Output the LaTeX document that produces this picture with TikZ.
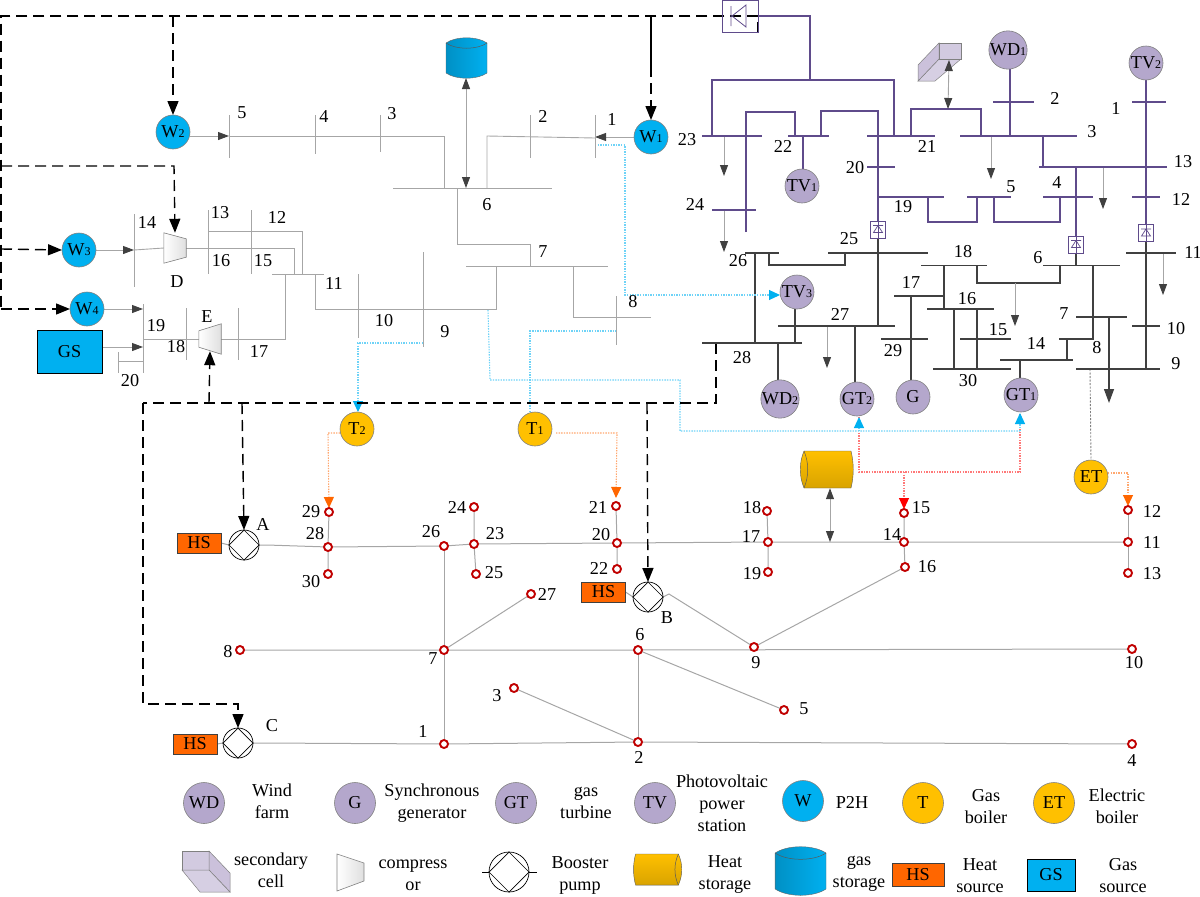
\documentclass[tikz,border=0pt]{standalone}
\usepackage{fontspec}
\setmainfont{Liberation Serif}
\usetikzlibrary{arrows.meta,backgrounds,calc}
\definecolor{pl}{HTML}{5F4B8B}
\definecolor{dk}{HTML}{404040}
\definecolor{gl}{HTML}{A6A6A6}
\definecolor{cpur}{HTML}{B4A7CC}
\definecolor{cblu}{HTML}{00B0F0}
\definecolor{cgol}{HTML}{FFC000}
\definecolor{corg}{HTML}{FF6600}
\definecolor{cred}{HTML}{C00000}
\definecolor{lblu}{HTML}{6FD3F7}
\definecolor{lred}{HTML}{FF7878}
\definecolor{lorg}{HTML}{FFA870}
\newcommand\lowd[1]{{\fontsize{12}{12}\selectfont #1}}
\newcommand\busH[5]{\pgfmathsetmacro\busC{(#3+#4)/2}\pgfmathsetmacro\busL{#4-#3}\node[bus,fill=#1,minimum width=\busL pt,minimum height=1.3pt] (#2) at (\busC,#5) {};}
\newcommand\busT[5]{\pgfmathsetmacro\busC{(#3+#4)/2}\pgfmathsetmacro\busL{#4-#3}\node[bus,fill=#1,minimum width=\busL pt,minimum height=.9pt] (#2) at (\busC,#5) {};}
\newcommand\busV[5]{\pgfmathsetmacro\busC{(#4+#5)/2}\pgfmathsetmacro\busL{#5-#4}\node[bus,fill=#1,minimum height=\busL pt,minimum width=.9pt] (#2) at (#3,\busC) {};}
\newcommand\conv[3]{\node[convbox] (#1) at (#2,#3) {};
 \draw[pl,line width=.8pt] (#1.north) -- (#1.south);
 \draw[pl,line width=.7pt] ([shift={(-5pt,4pt)}]#1.center) -- ([shift={(5pt,4pt)}]#1.center)
   ([shift={(0pt,4pt)}]#1.center) -- ([shift={(-4.5pt,-3pt)}]#1.center) -- ([shift={(4.5pt,-3pt)}]#1.center) -- cycle;}
\newcommand\pump[4]{\node[circle,draw=black,fill=white,line width=.7pt,inner sep=0,outer sep=0,minimum size=#4pt] (#1) at (#2,#3) {};
 \draw[black,line width=.7pt] (#1.north) -- (#1.east) -- (#1.south) -- (#1.west) -- cycle;}
\newcommand\gascyl[4]{\begin{scope}[shift={(#1,#2)},xscale=#3,yscale=#4]
 \path[left color=cblu!82!black,right color=cblu,draw=gray!80!black,line width=.4pt] (0,5) .. controls (10,-2) and (31,-2) .. (41,5) -- (41,35) .. controls (31,42) and (10,42) .. (0,35) -- cycle;
 \draw[gray!70!black,line width=.5pt] (0,5) .. controls (10,12) and (31,12) .. (41,5);
 \end{scope}}
\newcommand\heatcyl[4]{\begin{scope}[shift={(#1,#2)},xscale=#3,yscale=#4]
 \path[top color=cgol,bottom color=cgol!85!black,draw=gray!70!black,line width=.4pt] (4,0) -- (51,0) .. controls (54,12) and (54,25) .. (51,37) -- (4,37) .. controls (-1,25) and (-1,12) .. (4,0) -- cycle;
 \draw[gray!70!black,line width=.5pt] (4,0) .. controls (9,12) and (9,25) .. (4,37);
 \end{scope}}
\newcommand\compR[1]{\path[left color=white,right color=gray!25,draw=gray,line width=.6pt] (#1.north west) -- ([yshift=-6pt]#1.north east) -- ([yshift=6pt]#1.south east) -- (#1.south west) -- cycle;}
\newcommand\compL[1]{\path[left color=white,right color=gray!25,draw=gray,line width=.6pt] ([yshift=-7pt]#1.north west) -- (#1.north east) -- (#1.south east) -- ([yshift=7pt]#1.south west) -- cycle;}
\tikzset{
 txt/.style={font=\fontsize{18.2}{22}\selectfont,inner sep=0,outer sep=0,align=center,text=black},
 bus/.style={rectangle,inner sep=0,outer sep=0,draw=none},
 convbox/.style={rectangle,draw=pl,fill=white,line width=.7pt,inner sep=0,minimum width=15pt,minimum height=17pt},
 crc/.style={circle,draw=gray,line width=.6pt,inner sep=0,outer sep=0,minimum size=34pt,txt},
 cp/.style={crc,fill=cpur},
 cb/.style={crc,fill=cblu},
 cg/.style={crc,fill=cgol},
 big/.style={minimum size=41pt},
 ring/.style={circle,draw=cred,fill=white,line width=1.9pt,inner sep=0,outer sep=0,minimum size=8pt},
 hsbox/.style={rectangle,draw=dk,line width=1pt,fill=corg,inner sep=0,minimum width=44pt,minimum height=20pt,txt},
 gsbox/.style={rectangle,draw=black,line width=1pt,fill=cblu,inner sep=0,txt},
 tipd/.style={-{Triangle[length=11pt,width=8pt,color=dk]}},
 tipb/.style={{Triangle[length=11pt,width=8pt,color=dk]}-{Triangle[length=11pt,width=8pt,color=dk]}},
 gline/.style={draw=gl,line width=.9pt},
 pline/.style={draw=pl,line width=1.3pt},
 dline/.style={draw=dk,line width=1.3pt},
 tline/.style={draw=gl,line width=1pt},
 ctrl/.style={draw=black,line width=1.4pt,dash pattern=on 11pt off 6pt},
 ctip/.style={-{Triangle[length=14pt,width=11pt,color=black]}},
 dotb/.style={draw=lblu,line width=1.1pt,dash pattern=on 1.4pt off 1.2pt},
 dotr/.style={draw=lred,line width=1.1pt,dash pattern=on 1.4pt off 1.2pt},
 doto/.style={draw=lorg,line width=1.1pt,dash pattern=on 1.4pt off 1.2pt},
 btip/.style={-{Triangle[length=11pt,width=10pt,color=cblu]}},
 rtip/.style={-{Triangle[length=11pt,width=10pt,color=red]}},
 otip/.style={-{Triangle[length=11pt,width=10pt,color=corg]}},
}
\begin{document}
\begin{tikzpicture}[x=1pt,y=-1pt]
\path[use as bounding box] (0,0) rectangle (1200,897);

% ---------- circles
\node[cb] (W1) at (651,137) {W\lowd{1}};
\node[cb] (W2) at (173,132) {W\lowd{2}};
\node[cb] (W3) at (79,250) {W\lowd{3}};
\node[cb] (W4) at (87,309) {W\lowd{4}};
\node[cp] (TV1) at (802,186) {TV\lowd{1}};
\node[cp] (TV2) at (1146,63) {TV\lowd{2}};
\node[cp] (TV3) at (797,292) {TV\lowd{3}};
\node[cp] (WD1) at (1008,50) {WD\lowd{1}};
\node[cp] (WD2) at (780,399) {WD\lowd{2}};
\node[cp] (GT1) at (1021,395) {GT\lowd{1}};
\node[cp] (GT2) at (857,399) {GT\lowd{2}};
\node[cp] (Gen) at (913,397) {G};
\node[cg] (T1) at (535,429) {T\lowd{1}};
\node[cg] (T2) at (357,429) {T\lowd{2}};
\node[cg] (ET) at (1091,477) {ET};
\node[gsbox,minimum width=65pt,minimum height=43pt] (GS) at (69.5,351.5) {GS};

% ---------- gas network buses
\busV{gl}{g1}{595}{115}{158}
\busV{gl}{g2}{530}{115}{158}
\busV{gl}{g3}{380}{115}{152}
\busV{gl}{g4}{315}{115}{154}
\busV{gl}{g5}{229}{115}{158}
\busT{gl}{g6}{393}{552}{188}
\busT{gl}{g7}{466}{608}{266}
\busV{gl}{g8}{616}{296}{345}
\busV{gl}{g9}{423}{252}{347}
\busV{gl}{g10}{358}{274}{338}
\busT{gl}{g11}{272}{324}{274}
\busV{gl}{g12}{251}{210}{274}
\busV{gl}{g13}{208}{210}{274}
\busV{gl}{g14}{134}{214}{287}
\busV{gl}{g17}{238}{308}{360}
\busV{gl}{g18}{186}{308}{360}
\busV{gl}{g19}{143}{304}{373}
\busV{gl}{g20}{118}{352}{373}
\coordinate (g8e) at (651,317);
\node[inner sep=0,minimum width=22pt,minimum height=30pt] (CD) at (175,248) {};
\node[inner sep=0,minimum width=22pt,minimum height=30pt] (CE) at (210,339) {};
\compR{CD}
\compL{CE}

% ---------- electric buses
\node[rectangle,draw=pl,line width=.8pt,inner sep=0,minimum width=36pt,minimum height=32pt] (rect) at (740,16) {};
\draw[pl,line width=.8pt] (731,6) -- (731,26) (732,16) -- (746,5) -- (746,27) -- cycle;
\busH{pl}{e23}{702}{762}{136}
\busH{pl}{e24}{712}{756}{210}
\busH{pl}{e22}{788}{829}{136}
\busH{pl}{e21}{867}{935}{136}
\busH{pl}{e20}{867}{895}{167}
\busH{pl}{e19}{878}{944}{197}
\busH{pl}{e5}{967}{1011}{197}
\busH{pl}{e4}{1043}{1093}{197}
\busH{pl}{e3}{960}{1077}{136}
\busH{pl}{e2}{993}{1034}{102}
\busH{pl}{e1}{1132}{1166}{102}
\busH{pl}{e13}{1039}{1167}{167}
\busH{pl}{e12}{1132}{1160}{197}
\busH{dk}{e26}{745}{779}{253}
\busH{dk}{e25}{828}{928}{253}
\busH{dk}{e27}{778}{895}{326}
\busH{dk}{e28}{702}{802}{343}
\busH{dk}{e29}{881}{928}{339}
\busH{dk}{e17}{894}{944}{296}
\busH{dk}{e18}{921}{987}{265.5}
\busH{dk}{e16}{927}{994}{309}
\busH{dk}{e15}{960}{1011}{339}
\busH{dk}{e30}{933}{1011}{369}
\busH{dk}{e14}{1000}{1073}{360}
\busH{dk}{e8}{1059}{1093}{339}
\busH{dk}{e6}{1043}{1120}{265.5}
\busH{dk}{e7}{1076}{1127}{317}
\busH{dk}{e9}{1076}{1160}{369}
\busH{dk}{e10}{1132}{1160}{326}
\busH{dk}{e11}{1126}{1176}{253}
\coordinate (e23b) at (746,232);

% secondary cell
\coordinate (sc) at (949,60);
\draw[gray,line width=.5pt,fill=cpur!55] (939,59) -- (961,59) -- (935,81) -- (918,81) -- cycle;
\draw[gray,line width=.5pt,fill=cpur!70] (939,43) -- (939,59) -- (918,81) -- (918,65) -- cycle;
\draw[gray,line width=.5pt,fill=cpur!60] (939,43) rectangle (961,59);
\draw[gline,tipb] (sc) -- (948,0 |- e3 |- 0,109);

% gas storage / heat storage
\gascyl{446}{38}{1}{1}
\coordinate (gst) at (466,78);
\heatcyl{800}{451}{1}{1}
\node[inner sep=0,minimum width=53pt,minimum height=37pt] (hst) at (826.5,469.5) {};

% ---------- thermal nodes
\foreach \nm/\x/\y in {1/444/744,2/638/742,3/514/688,4/1132/744,5/784/710,6/638/650,7/444/650,8/240/650,9/754/647,10/1132/649,11/1128/542,12/1128/510,13/1128/573,14/904/542,15/904/513,16/905/567,17/768/542,18/767/511,19/768/572,20/617/543,21/616/506,22/617/569,23/474/544,24/474/507,25/476/574,26/444/546,27/531/594,28/328/547,29/329/512,30/328/574}
  \node[ring] (t\nm) at (\x,\y) {};
\pump{PA}{244}{545}{30}
\pump{PB}{648}{597}{30}
\pump{PC}{238}{743}{30}
\node[hsbox] (HA) at (199,543) {HS};
\node[hsbox] (HB) at (603.5,592) {HS};
\node[hsbox] (HC) at (195,744) {HS};
\coordinate (PAe) at (267,545);
\coordinate (PBe) at (669,594);
\coordinate (PCe) at (261,743);
\conv{c1}{878}{229.5}
\conv{c2}{1076}{244.5}
\conv{c3}{1146}{233}
\coordinate (cT) at (1,16);
\coordinate (cB) at (1,309);
\coordinate (cS) at (716,403);
\coordinate (cW) at (143,403);

\begin{scope}[on background layer]
% gas network
\draw[gline,tipd] (W2.east |- 0,136) -- (g5 |- 0,136);
\draw[gline] (g5 |- 0,136) -- (444,136) -- (444,0 |- g6);
\draw[gline] (487,0 |- g6) -- (487,136) -- (g1 |- 0,138);
\draw[gline,tipd] (W1.west) -- (g1 |- W1);
\draw[gline] (457,0 |- g6) -- (457,244) -- (530,244) -- (530,0 |- g7);
\draw[gline] (496,0 |- g7) -- (496,309) -- (315,309) -- (315,0 |- g11);
\draw[gline] (573,0 |- g7) -- (573,317) -- (g8e);
\draw[gline] (302,0 |- g11) -- (302,231) -- (g13 |- 0,231);
\draw[gline] (294,0 |- g11) -- (294,248) -- (CD.east);
\draw[gline] (285,0 |- g11) -- (285,339) -- (CE.east);
\draw[gline,tipd] (W3.east) -- (g14 |- W3);
\draw[gline] (g14 |- W3) -- (CD.west);
\draw[gline,tipd] (W4.east) -- (g19 |- W4);
\draw[gline,tipd] (GS.east |- 0,347) -- (g19 |- 0,347);
\draw[gline] (g19 |- 0,339) -- (CE.west);
\draw[gline] (g19 |- 0,361) -- (g20 |- 0,361);
\draw[gline,tipb] (gst) -- (466,0 |- g6);

% electric network - purple
\draw[pline] (rect.east) -- (810,16) -- (810,80);
\draw[pline] (712,0 |- e23) -- (712,80) -- (894,80) -- (894,0 |- e21);
\draw[pline] (e23b) -- (746,112) -- (795,112) -- (795,0 |- e22);
\draw[pline] (803,0 |- e22) -- (TV1.north -| 803,0);
\draw[pline] (821,0 |- e22) -- (821,111) -- (878,111) -- (c1.north);
\draw[pline] (928,0 |- e19) -- (928,222) -- (977,222) -- (977,0 |- e5);
\draw[pline] (994,0 |- e5) -- (994,222) -- (1060,222) -- (1060,0 |- e4);
\draw[pline] (911,0 |- e21) -- (911,109) -- (981,109) -- (981,0 |- e3);
\draw[pline] (WD1.south -| 1010,0) -- (1010,0 |- e3);
\draw[pline] (1043,0 |- e3) -- (1043,0 |- e13);
\draw[pline] (1076,0 |- e13) -- (c2.north);
\draw[pline] (TV2.south) -- (c3.north);
% electric network - dark
\draw[dline] (c1.south) -- (878,0 |- e27);
\draw[dline] (c2.south) -- (1076,0 |- e6);
\draw[dline] (c3.south) -- (1146,0 |- e9);
\draw[dline] (755,0 |- e26) -- (755,0 |- e28);
\draw[dline] (769,0 |- e26) -- (769,265) -- (845,265) -- (845,0 |- e25);
\draw[dline] (TV3.south -| 795,0) -- (795,0 |- e28);
\draw[dline] (778,0 |- e28) -- (WD2.north -| 778,0);
\draw[dline] (855,0 |- e27) -- (GT2.north -| 855,0);
\draw[dline] (911,0 |- e17) -- (Gen.north -| 911,0);
\draw[dline] (944,0 |- e18) -- (944,0 |- e16);
\draw[dline] (977,0 |- e18) -- (977,283) -- (1060,283) -- (1060,0 |- e6);
\draw[dline] (954,0 |- e16) -- (954,0 |- e30);
\draw[dline] (977,0 |- e16) -- (977,0 |- e30);
\draw[dline] (1020,0 |- e14) -- (GT1.north -| 1020,0);
\draw[dline] (1067,0 |- e14) -- (1067,339) -- (1093,339) -- (1093,0 |- e6);
% loads
\draw[gline,tipd] (724,0 |- e23) -- (724,176);
\draw[gline,tipd] (724,0 |- e24) -- (724,252);
\draw[gline,tipd] (991,0 |- e3) -- (991,179);
\draw[gline,tipd] (1103,0 |- e13) -- (1103,209);
\draw[gline,tipd] (1015,283) -- (1015,326);
\draw[gline,tipd] (827,0 |- e27) -- (827,368);
\draw[gline,tipd] (1163,0 |- e11) -- (1163,295);
\draw[dline,-{Triangle[length=14pt,width=10pt,color=dk]}] (1109,0 |- e7) -- (1109,403);
% thermal network
\draw[tline] (HA.east) -- (PA.west) (PA.east) -- (PAe) -- (t28) -- (t26) -- (t23) -- (t20) -- (t17) -- (t14) -- (t11);
\draw[tline] (t29) -- (t28) -- (t30);
\draw[tline] (t24) -- (t23) -- (t25);
\draw[tline] (t21) -- (t20) -- (t22);
\draw[tline] (t18) -- (t17) -- (t19);
\draw[tline] (t15) -- (t14) -- (t16);
\draw[tline] (t12) -- (t11) -- (t13);
\draw[tline] (t26) -- (t7) -- (t1);
\draw[tline] (t7) -- (t27);
\draw[tline] (t8) -- (t7) -- (t6) -- (t10);
\draw[tline] (t6) -- (t5);
\draw[tline] (t6) -- (t2);
\draw[tline] (t3) -- (t2);
\draw[tline] (HB.east) -- (PB.west) (PB.east) -- (PBe) -- (t9) -- (t16);
\draw[tline] (HC.east) -- (PC.west) (PC.east) -- (PCe) -- (t1) -- (t2) -- (t4);
\draw[gline,tipb] (830,0 |- hst.south) -- (830,0 |- t14);
% red dotted
\draw[dotr] (859,417) -- (859,472) -- (1020,472) -- (1020,413);
\draw[dotr,rtip] (904,472) -- (t15.north);
% blue dotted
\draw[dotb,btip] (g1 |- 0,145) -- (625,145) -- (625,295) -- (TV3.west |- 0,295);
\draw[dotb,btip] (g9 |- 0,343) -- (358,343) -- (358,0 |- T2.north);
\draw[dotb] (530,0 |- T1.north) -- (530,331) -- (g8 |- 0,331);
\draw[dotb] (488,310) -- (490,380) -- (680,380) -- (680,431) -- (1020,431);
\draw[dotb,btip] (859,431) -- (859,417);
\draw[dotb,btip] (1020,431) -- (1020,413);
% orange dotted
\draw[doto,otip] (T2.west |- 0,433) -- (328,433) -- (t29.north);
\draw[doto,otip] ($(T1.east |- 0,433)+(4,0)$) -- (617,433) -- ([yshift=4pt]t21.north);
\draw[doto,otip] (ET.east |- 0,473) -- (1128,473) -- (t12.north);
\draw[draw=gray,line width=.9pt,dash pattern=on 2pt off 1.5pt] (1090,0 |- e9) -- (ET.north);
% control dashed
\draw[ctrl] (rect.east) -- (cT) -- (cB);
\draw[ctrl,ctip] (cB) -- (W4.west);
\draw[ctrl,ctip] (1,249) -- (W3.west);
\draw[ctrl,ctip] (1,166) -- (174,166) -- (CD.north);
\draw[ctrl,ctip] (173,16) -- (W2.north);
\draw[black,line width=1.4pt] (651,16) -- (651,66);
\draw[ctrl,ctip] (651,66) -- (W1.north);
\draw[black,line width=1.2pt] (758,22) -- (758,33);
\draw[ctrl] (716,0 |- e28) -- (cS) -- (cW);
\draw[ctrl,ctip] (cW) -- (143,704) -- (238,704) -- (PC.north);
\draw[ctrl,ctip] (209,403) -- ([yshift=3pt]CE.south);
\draw[ctrl,ctip] (242,403) -- (PA.north);
\draw[ctrl,ctip] (647,403) -- (PB.north);
\end{scope}

% ---------- labels
\foreach \nm/\x/\y/\txt in {1/612/119/1,2/543/116/2,3/392/114/3,4/324/117/4,5/242/113/5,6/487/205/6,7/543/252/7,8/633/302/8,9/445/332/9,10/384/321/10,11/334/283/11,12/277/217/12,13/220/213/13,14/147/222/14,15/263/261/15,16/221/261/16,17/259/351/17,18/176/347/18,19/156/326/19,20/130/381/20,D/177/282/D,E/207/317/E}
  \node[txt] (ga\nm) at (\x,\y) {\txt};
\foreach \nm/\x/\y/\txt in {1/1116/108/1,2/1055/98/2,3/1092/132/3,4/1057/183/4,5/1011/187/5,6/1038/258/6,7/1064/314/7,8/1097/348/8,9/1176/364/9,10/1176/329/10,11/1193/252/11,12/1181/199/12,13/1183/162/13,14/1036/343/14,15/998/330/15,16/967/299/16,17/911/282/17,18/963/252/18,19/903/207/19,20/855/168/20,21/927/146/21,22/783/146/22,23/687/140/23,24/695/204/24,25/849/239/25,26/738/261/26,27/840/314/27,28/742/358/28,29/893/351/29,30/968/381/30}
  \node[txt] (el\nm) at (\x,\y) {\txt};
\foreach \nm/\x/\y/\txt in {1/423/731/1,2/639/757/2,3/497/696/3,4/1132/761/4,5/804/709/5,6/640/635/6,7/433/659/7,8/228/652/8,9/756/663/9,10/1134/663/10,11/1152/542/11,12/1152/511/12,13/1152/574/13,14/892/534/14,15/921/508/15,16/927/567/16,17/751/536/17,18/752/508/18,19/752/574/19,20/601/535/20,21/598/507/21,22/599/568/22,23/495/534/23,24/457/507/24,25/494/573/25,26/431/532/26,27/547/594/27,28/315/534/28,29/311/512/29,30/311/582/30,A/263/524/A,B/667/618/B,C/272/726/C}
  \node[txt] (th\nm) at (\x,\y) {\txt};

% ---------- legend
\node[cp,big] (kWD) at (204,803) {WD};
\node[cp,big] (kG) at (355,803) {G};
\node[cp,big] (kGT) at (516,803) {GT};
\node[cp,big] (kTV) at (655,803) {TV};
\node[cb,big] (kW) at (803,801) {W};
\node[cg,big] (kT) at (923,803) {T};
\node[cg,big] (kET) at (1054,803) {ET};
\node[txt] (tWD) at (272,801) {Wind\\farm};
\node[txt] (tG) at (432,803) {Synchronous\\generator};
\node[txt] (tGT) at (586,803) {gas\\turbine};
\node[txt] (tTV) at (722,803) {Photovoltaic\\power\\station};
\node[txt] (tW) at (852,802) {P2H};
\node[txt] (tT) at (986,807) {Gas\\boiler};
\node[txt] (tET) at (1117,806.5) {Electric\\boiler};

\draw[gray,line width=.5pt,fill=cpur!60] (182,851) rectangle (209,870);
\draw[gray,line width=.5pt,fill=cpur!70] (209,851) -- (230,873) -- (230,892) -- (209,870) -- cycle;
\draw[gray,line width=.5pt,fill=cpur!55] (182,870) -- (209,870) -- (230,892) -- (200,892) -- cycle;
\node[txt] (tSC) at (271,870) {secondary\\cell};
\path[left color=white,right color=gray!25,draw=gray,line width=.6pt] (337,854) -- (364,863) -- (364,881) -- (337,891) -- cycle;
\node[txt] (tCO) at (413,875) {compress\\or};
\pump{kP}{509}{872}{40}
\coordinate (kPa) at (482,872);
\coordinate (kPb) at (537,872);
\draw[black,line width=.7pt] (kPa) -- (kP.west) (kP.east) -- (kPb);
\node[txt] (tBP) at (580,875) {Booster\\pump};
\heatcyl{682}{854}{-.91}{.84}
\node[txt] (tHS) at (725,874) {Heat\\storage};
\gascyl{826}{847}{-1.24}{1.2}
\node[txt] (tGST) at (859,873.5) {gas\\storage};
\node[hsbox,minimum width=52pt,minimum height=23pt] (kHS) at (918,874.5) {HS};
\node[txt] (tHSo) at (980,876) {Heat\\source};
\node[gsbox,minimum width=48pt,minimum height=32pt] (kGS) at (1051,875) {GS};
\node[txt] (tGSo) at (1123,875.5) {Gas\\source};
\end{tikzpicture}
\end{document}
